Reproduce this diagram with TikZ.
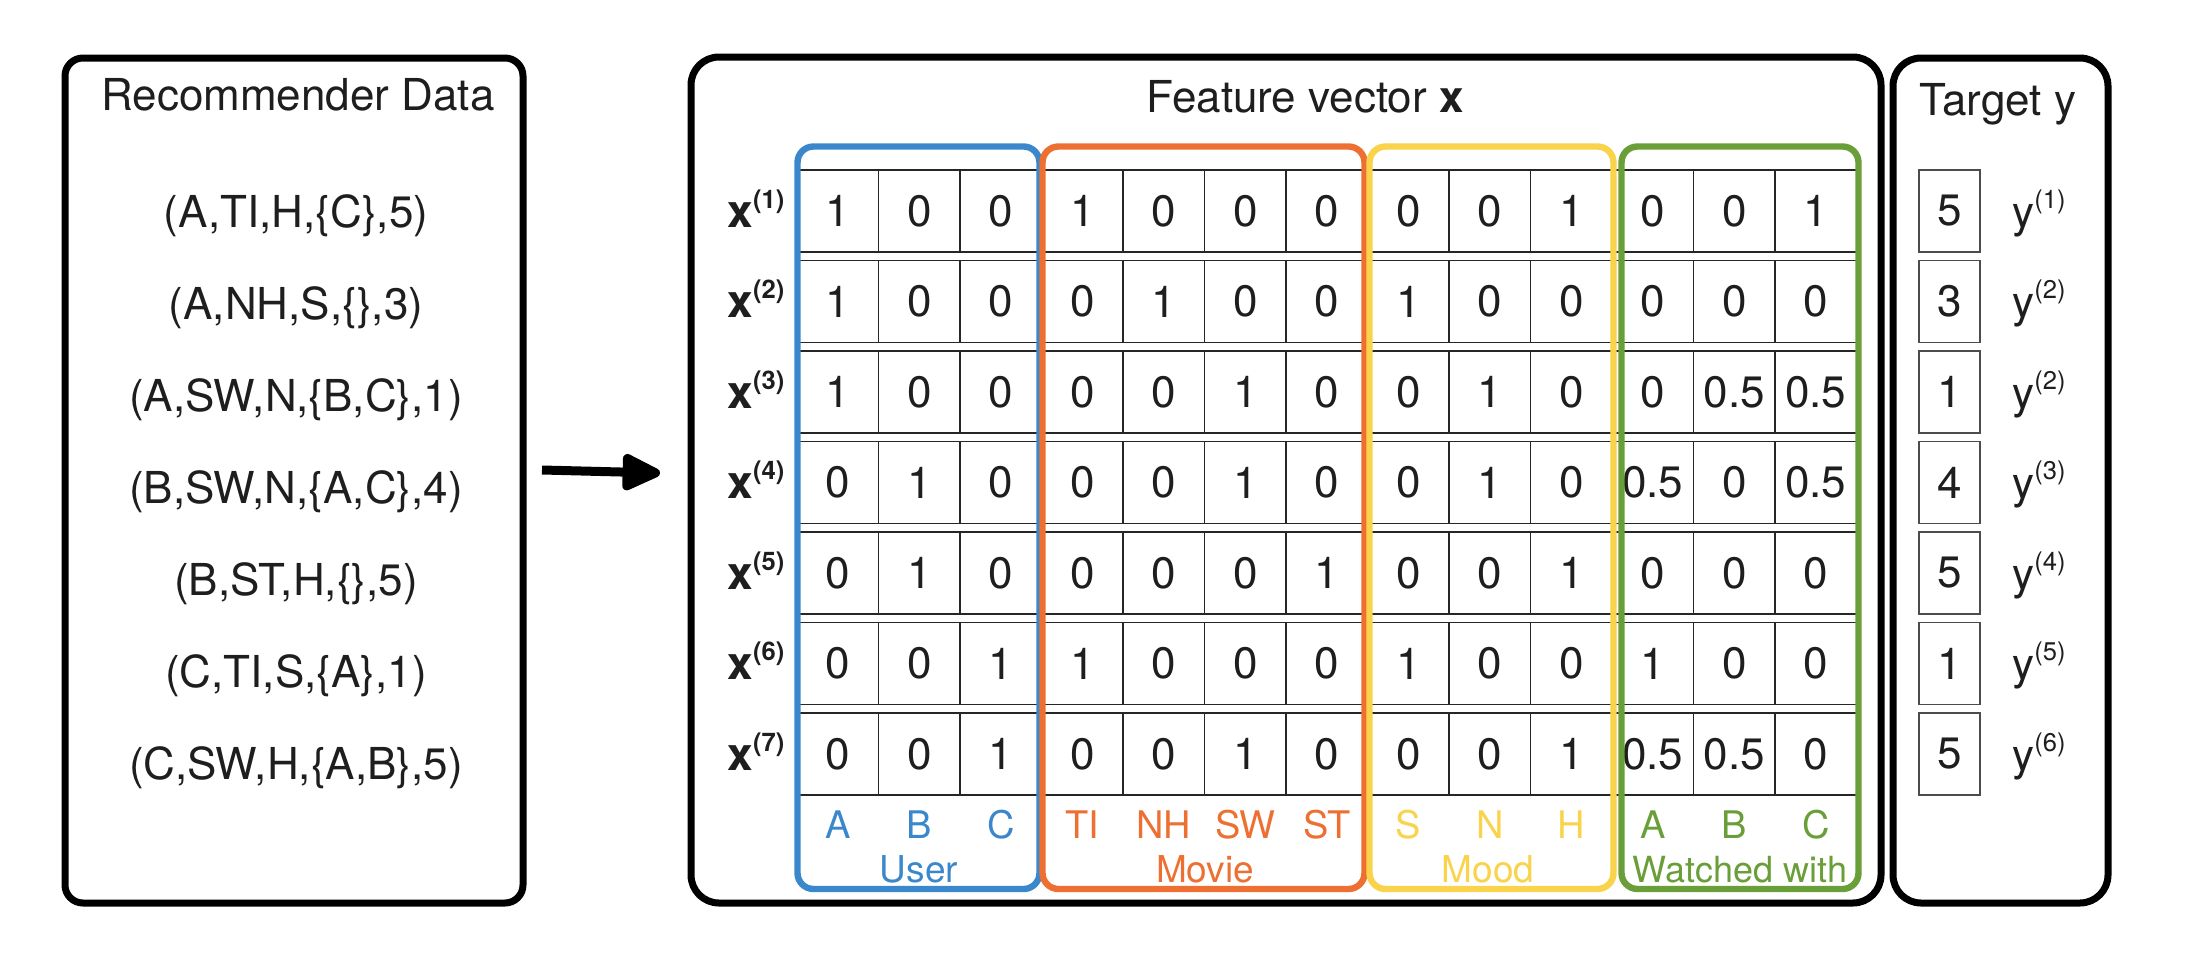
\documentclass[tikz,border=0pt]{standalone}
\usepackage{fontspec}
\setmainfont{TeX Gyre Heros}
\usetikzlibrary{arrows.meta}
\definecolor{cblue}{RGB}{58,135,203}
\definecolor{corange}{RGB}{237,112,50}
\definecolor{cyellow}{RGB}{249,211,76}
\definecolor{cgreen}{RGB}{106,158,56}
\definecolor{txt}{RGB}{30,30,30}
\begin{document}
\begin{tikzpicture}[x=0.5pt,y=-0.5pt,
  bigbox/.style={draw=black, line width=3.5pt, inner sep=0pt},
  grpbox/.style={line width=3.2pt, rounded corners=8pt},
  cellbox/.style={draw=black!85, line width=0.75pt, minimum width=40.75pt, minimum height=41pt, inner sep=0pt, text=txt, font=\fontsize{22}{26}\selectfont},
  tgtbox/.style={draw=black!70, line width=0.75pt, minimum width=30.5pt, minimum height=41pt, inner sep=0pt, text=txt, font=\fontsize{22}{26}\selectfont},
  bigtxt/.style={text=txt, font=\fontsize{22}{26}\selectfont, inner sep=0pt},
  lbltxt/.style={font=\fontsize{19}{22}\selectfont, inner sep=0pt, anchor=base},
  grptxt/.style={font=\fontsize{18.5}{22}\selectfont, inner sep=0pt, anchor=base},
  arrowline/.style={line width=4.5pt, -{Triangle[length=22pt,width=19.5pt,round]}}
]
\useasboundingbox (0,0) rectangle (2196,958);

% big frames
\node[bigbox, rounded corners=9pt, minimum width=229pt, minimum height=422.5pt] (databox) at (294,480.5) {};
\node[bigbox, rounded corners=14pt, minimum width=595pt, minimum height=423pt] (featbox) at (1286,480) {};
\node[bigbox, rounded corners=14pt, minimum width=107.5pt, minimum height=422.5pt] (tgtframe) at (2000.5,480.5) {};

% titles
\node[bigtxt, anchor=base] (t1) at (298,110) {Recommender Data};
\node[bigtxt, anchor=base] (t2) at (1305,112) {Feature vector \textbf{x}};
\node[bigtxt, anchor=base] (t3) at (1998,115) {Target y};

% recommender data rows
\foreach \d [count=\r] in {(A,TI,H,\{C\},5),(A,NH,S,\{\},3),(A,SW,N,\{B,C\},1),(B,SW,N,\{A,C\},4),(B,ST,H,\{\},5),(C,TI,S,\{A\},1),(C,SW,H,\{A,B\},5)}
  \node[bigtxt, anchor=base] (d\r) at (296,{227+(\r-1)*92}) {\d};

% feature matrix
\foreach \vals [count=\r] in {
  {1,0,0,1,0,0,0,0,0,1,0,0,1},
  {1,0,0,0,1,0,0,1,0,0,0,0,0},
  {1,0,0,0,0,1,0,0,1,0,0,0.5,0.5},
  {0,1,0,0,0,1,0,0,1,0,0.5,0,0.5},
  {0,1,0,0,0,0,1,0,0,1,0,0,0},
  {0,0,1,1,0,0,0,1,0,0,1,0,0},
  {0,0,1,0,0,1,0,0,0,1,0.5,0.5,0}} {
  \foreach \v [count=\c] in \vals
    \node[cellbox] (cell-\r-\c) at ({797+(\c-0.5)*81.5},{211+(\r-1)*90.5}) {\v};
  \node[anchor=base, text=txt, inner sep=0pt, font=\fontsize{23}{26}\selectfont] (xl\r) at (756,{227+(\r-1)*90.5}) {\textbf{x}\raisebox{9.5pt}{\fontsize{12.8}{14}\selectfont\bfseries(\r)}};
}

% targets
\foreach \t/\s [count=\r] in {5/1,3/2,1/2,4/3,5/4,1/5,5/6} {
  \node[tgtbox] (tc\r) at (1949.5,{211+(\r-1)*90.5}) {\t};
  \node[anchor=base west, text=txt, inner sep=0pt, font=\fontsize{22}{26}\selectfont] (yl\r) at (2012,{227+(\r-1)*90.5}) {y\raisebox{9.5pt}{\fontsize{12.8}{14}\selectfont(\s)}};
}

% column labels
\foreach \l/\col [count=\c] in {A/cblue,B/cblue,C/cblue,TI/corange,NH/corange,SW/corange,ST/corange,S/cyellow,N/cyellow,H/cyellow,A/cgreen,B/cgreen,C/cgreen}
  \node[lbltxt, text=\col] (cl\c) at ({797+(\c-0.5)*81.5},838) {\l};

\node[grptxt, text=cblue] (gUser) at (919,882) {User};
\node[grptxt, text=corange] (gMovie) at (1205,882) {Movie};
\node[grptxt, text=cyellow] (gMood) at (1488,882) {Mood};
\node[grptxt, text=cgreen, font=\fontsize{18}{22}\selectfont] (gWatch) at (1740,882) {Watched with};

% group frames
\draw[grpbox, draw=cblue] (797.5,146.5) rectangle (1039.5,889);
\draw[grpbox, draw=corange] (1042.5,146.5) rectangle (1364.5,889);
\draw[grpbox, draw=cyellow] (1369.5,146.5) rectangle (1613.5,889);
\draw[grpbox, draw=cgreen] (1621.5,146.5) rectangle (1858.5,889);

% arrow
\coordinate (arrS) at (542,470);
\coordinate (arrE) at (660,473);
\draw[arrowline] (arrS) -- (arrE);
\end{tikzpicture}
\end{document}
